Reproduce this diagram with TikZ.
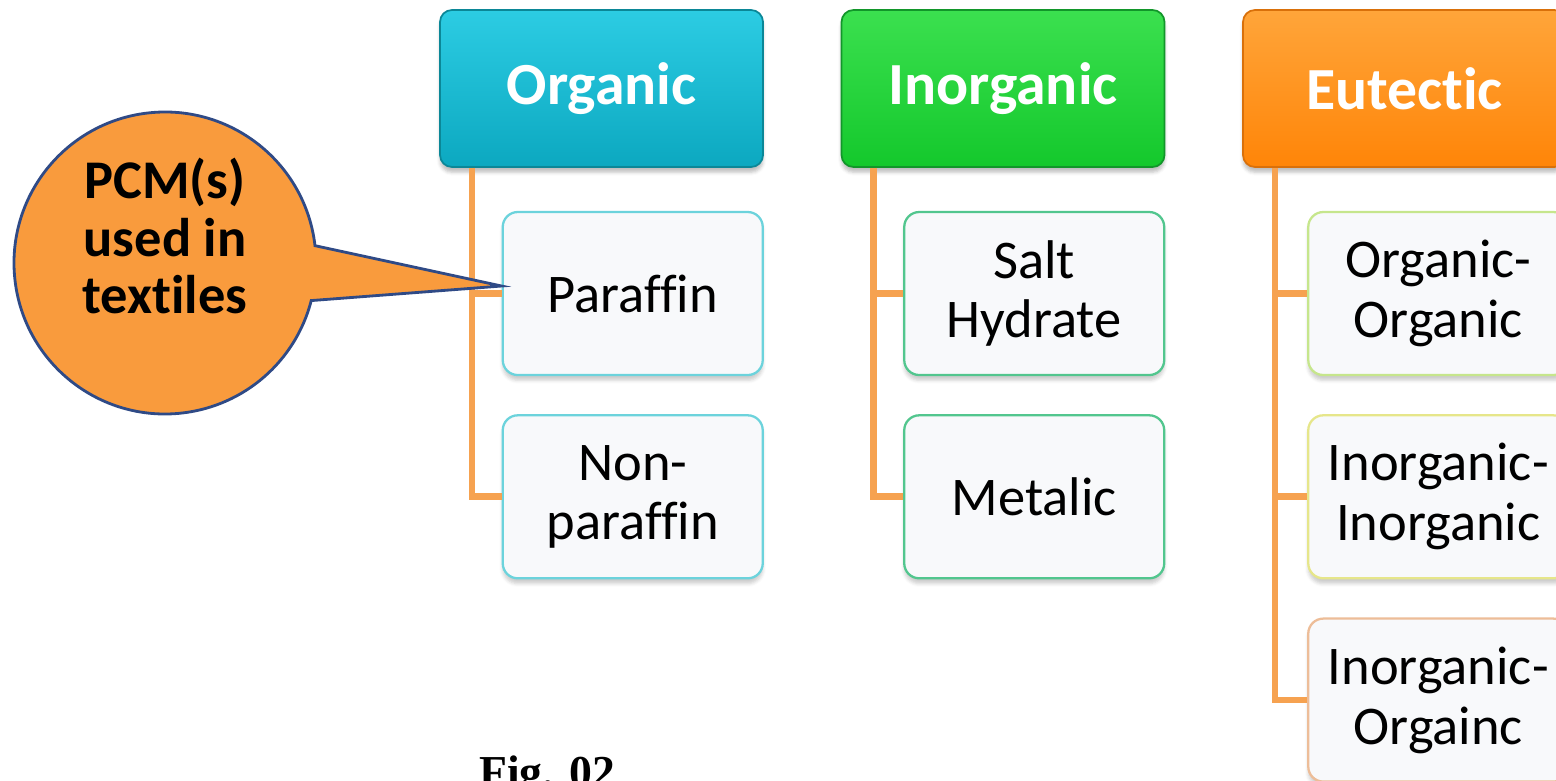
\documentclass[tikz,border=0pt]{standalone}
\usepackage{fontspec}
\setmainfont{Carlito}[Ligatures={CommonOff}]
\newfontfamily\captionfont{Liberation Serif}
\usepackage{tikz}
\usetikzlibrary{positioning,shapes.callouts,shadows.blur}
\definecolor{organictop}{HTML}{2CCCE3}
\definecolor{organicbot}{HTML}{0CA8C0}
\definecolor{organicline}{HTML}{0B8797}
\definecolor{inorganictop}{HTML}{3BE04F}
\definecolor{inorganicbot}{HTML}{14C82C}
\definecolor{inorganicline}{HTML}{12962A}
\definecolor{eutectictop}{HTML}{FFA53A}
\definecolor{eutecticbot}{HTML}{FF8508}
\definecolor{eutecticline}{HTML}{D9700A}
\definecolor{leafwhite}{HTML}{F8F9FB}
\definecolor{organicleaf}{HTML}{6CD3DC}
\definecolor{inorganicleaf}{HTML}{52C68E}
\definecolor{oorganicleaf}{HTML}{C6E68C}
\definecolor{iinorganicleaf}{HTML}{E6E68A}
\definecolor{iorganicleaf}{HTML}{EDBD98}
\definecolor{branchorange}{HTML}{F6A250}
\definecolor{bubbleorange}{HTML}{F99B3D}
\definecolor{bubbleblue}{HTML}{2F4A86}

\begin{document}
\begin{tikzpicture}[
    header/.style={rounded corners=0.24cm,minimum width=6.46cm,minimum height=3.14cm,
        text=white,font=\fontsize{34}{38}\selectfont\bfseries,line width=1pt,
        blur shadow={shadow xshift=0pt,shadow yshift=-3pt,shadow opacity=25}},
    leaf/.style={rounded corners=0.3cm,minimum width=5.2cm,minimum height=3.26cm,
        fill=leafwhite,line width=1.3pt,align=center,font=\fontsize{31}{34}\selectfont,
        blur shadow={shadow xshift=0pt,shadow yshift=-3pt,shadow opacity=20}},
    branch/.style={draw=branchorange,line width=3.8pt},
    node distance=0.76cm
]
    \useasboundingbox (0,0) rectangle (31.12,-15.62);
    % category headers
    \node[header,top color=organictop,bottom color=organicbot,draw=organicline] (org) at (12.03,-1.77) {Organic};
    \node[header,top color=inorganictop,bottom color=inorganicbot,draw=inorganicline] (inorg) at (20.06,-1.77) {Inorganic};
    \node[header,top color=eutectictop,bottom color=eutecticbot,draw=eutecticline] (eut) at (28.09,-1.77) {Eutectic};
    % sub types
    \node[leaf,draw=organicleaf,anchor=north east] (par) at ([yshift=-0.86cm]org.south east) {Paraffin};
    \node[leaf,draw=organicleaf,below=of par] (nonpar) {Non-\\paraffin};
    \node[leaf,draw=inorganicleaf,anchor=north east] (salt) at ([yshift=-0.86cm]inorg.south east) {Salt\\Hydrate};
    \node[leaf,draw=inorganicleaf,below=of salt] (metal) {Metalic};
    \node[leaf,draw=oorganicleaf,anchor=north west] (oo) at ([xshift=1.3cm,yshift=-0.86cm]eut.south west) {Organic-\\Organic};
    \node[leaf,draw=iinorganicleaf,below=of oo] (ii) {Inorganic-\\Inorganic};
    \node[leaf,draw=iorganicleaf,below=of ii] (io) {Inorganic-\\Orgainc};
    \foreach \parent/\child in {org/par,org/nonpar,inorg/salt,inorg/metal,eut/oo,eut/ii,eut/io}{
        \draw[branch] ([xshift=0.66cm]\parent.south west) |- (\child.west);
    }
    % callout
    \node[ellipse callout,draw=bubbleblue,fill=bubbleorange,line width=1.6pt,minimum width=6.04cm,minimum height=6.04cm,
        callout absolute pointer={([yshift=0.15cm]par.west)},callout pointer arc=21] (bubble) at (3.3,-5.26) {};
    \node[align=center,font=\fontsize{31}{32.5}\selectfont\bfseries] (pcm) at ([yshift=0.54cm]bubble.center) {PCM(s)\\used in\\textiles};
    \node[anchor=base west,font=\captionfont\bfseries\fontsize{26}{28}\selectfont] (fig) at (9.46,-15.74) {Fig. 02};
\end{tikzpicture}
\end{document}
